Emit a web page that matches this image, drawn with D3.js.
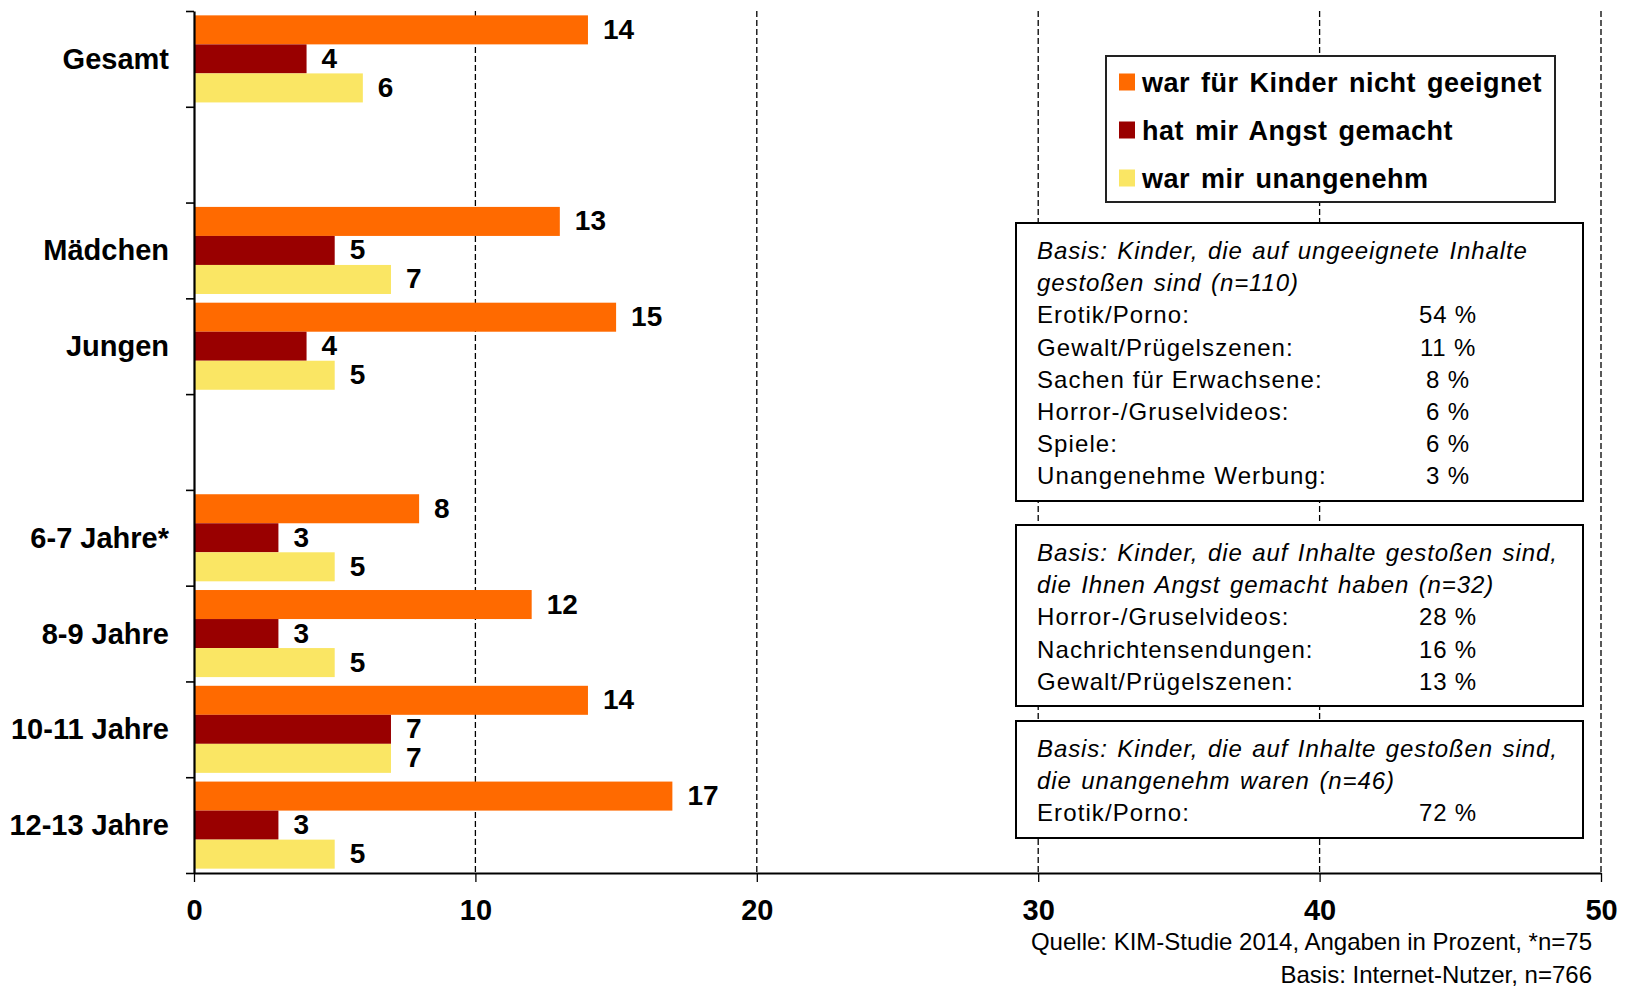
<!DOCTYPE html>
<html>
<head>
<meta charset="utf-8">
<script src="https://cdn.jsdelivr.net/npm/d3@7"></script>
<style>
  body { margin: 0; background: #fff; }
  svg { font-family: 'Liberation Sans', Arial, sans-serif; }
</style>
</head>
<body>
<div id="wrapper"></div>
<script>
// Data
const categories = ['Gesamt', 'gap1', 'Mädchen', 'Jungen', 'gap2', '6-7 Jahre*', '8-9 Jahre', '10-11 Jahre', '12-13 Jahre'];
const categoryLabels = ['Gesamt', '', 'Mädchen', 'Jungen', '', '6-7 Jahre*', '8-9 Jahre', '10-11 Jahre', '12-13 Jahre'];
const seriesNames = ['war für Kinder nicht geeignet', 'hat mir Angst gemacht', 'war mir unangenehm'];
const nichtGeeignet = [14, null, 13, 15, null, 8, 12, 14, 17];
const angst = [4, null, 5, 4, null, 3, 3, 7, 3];
const unangenehm = [6, null, 7, 5, null, 5, 5, 7, 5];
const xTicks = [0, 10, 20, 30, 40, 50];

const box1Header = ['Basis: Kinder, die auf ungeeignete Inhalte', 'gestoßen sind (n=110)'];
const box1Items = ['Erotik/Porno:', 'Gewalt/Prügelszenen:', 'Sachen für Erwachsene:', 'Horror-/Gruselvideos:', 'Spiele:', 'Unangenehme Werbung:'];
const box1Values = ['54 %', '11 %', '8 %', '6 %', '6 %', '3 %'];
const box2Header = ['Basis: Kinder, die auf Inhalte gestoßen sind,', 'die Ihnen Angst gemacht haben (n=32)'];
const box2Items = ['Horror-/Gruselvideos:', 'Nachrichtensendungen:', 'Gewalt/Prügelszenen:'];
const box2Values = ['28 %', '16 %', '13 %'];
const box3Header = ['Basis: Kinder, die auf Inhalte gestoßen sind,', 'die unangenehm waren (n=46)'];
const box3Items = ['Erotik/Porno:'];
const box3Values = ['72 %'];
const footnotes = ['Quelle: KIM-Studie 2014, Angaben in Prozent, *n=75', 'Basis: Internet-Nutzer, n=766'];

const colors = ['#ff6a00', '#990000', '#fae664'];
const seriesValues = [nichtGeeignet, angst, unangenehm];

// Dimensions
const dimensions = {
  width: 1632,
  height: 990,
  margin: { top: 11, right: 31, bottom: 117, left: 194 },
};
dimensions.boundedWidth = dimensions.width - dimensions.margin.left - dimensions.margin.right;
dimensions.boundedHeight = dimensions.height - dimensions.margin.top - dimensions.margin.bottom;

const rows = categories.map((c, i) => ({
  key: c,
  label: categoryLabels[i],
  values: seriesValues.map((s) => s[i]),
}));

// Scales
const xScale = d3.scaleLinear()
  .domain([0, 50])
  .range([0, dimensions.boundedWidth]);

const yScale = d3.scaleBand()
  .domain(categories)
  .range([0, dimensions.boundedHeight]);

const ySub = d3.scaleBand()
  .domain(d3.range(seriesNames.length))
  .range([0, yScale.bandwidth()])
  .paddingOuter(0.15);

// index scale for the band boundary ticks
const yEdge = d3.scaleLinear()
  .domain([0, categories.length])
  .range([0, dimensions.boundedHeight]);

// Canvas
const wrapper = d3.select('#wrapper')
  .append('svg')
  .attr('width', dimensions.width)
  .attr('height', dimensions.height);

const bounds = wrapper.append('g')
  .attr('transform', `translate(${dimensions.margin.left}, ${dimensions.margin.top})`);

// Grid lines
bounds.append('g')
  .selectAll('line')
  .data(xTicks.filter((d) => d > 0))
  .join('line')
  .attr('x1', (d) => xScale(d))
  .attr('x2', (d) => xScale(d))
  .attr('y1', 0)
  .attr('y2', dimensions.boundedHeight)
  .attr('stroke', '#000')
  .attr('stroke-width', 1.3)
  .attr('stroke-dasharray', '6,3');

// Bars
const groups = bounds.selectAll('.group')
  .data(rows.filter((r) => r.label !== ''))
  .join('g')
  .attr('class', 'group')
  .attr('transform', (d) => `translate(0, ${yScale(d.key)})`);

groups.selectAll('rect')
  .data((d) => d.values)
  .join('rect')
  .attr('x', 0)
  .attr('y', (d, i) => ySub(i))
  .attr('width', (d) => xScale(d))
  .attr('height', ySub.bandwidth())
  .attr('fill', (d, i) => colors[i]);

groups.selectAll('.value')
  .data((d) => d.values)
  .join('text')
  .attr('class', 'value')
  .attr('x', (d) => xScale(d) + 15)
  .attr('y', (d, i) => ySub(i) + ySub.bandwidth() / 2 + 9)
  .attr('font-size', 28)
  .attr('font-weight', 'bold')
  .text((d) => d);

// Category labels
bounds.append('g')
  .selectAll('text')
  .data(rows.filter((r) => r.label !== ''))
  .join('text')
  .attr('x', -25)
  .attr('y', (d) => yScale(d.key) + yScale.bandwidth() / 2 + 10)
  .attr('text-anchor', 'end')
  .attr('font-size', 29)
  .attr('font-weight', 'bold')
  .text((d) => d.label);

// Axes
const xAxis = d3.axisBottom(xScale)
  .tickValues(xTicks)
  .tickSize(9)
  .tickSizeOuter(0)
  .tickPadding(17);

const xAxisGroup = bounds.append('g')
  .attr('transform', `translate(0, ${dimensions.boundedHeight})`)
  .call(xAxis);
xAxisGroup.select('.domain').attr('stroke-width', 2.2);
xAxisGroup.selectAll('.tick line').attr('stroke-width', 1.3);
xAxisGroup.selectAll('.tick text')
  .attr('font-size', 29)
  .attr('font-weight', 'bold')
  .attr('font-family', "'Liberation Sans', Arial, sans-serif")
  .attr('fill', '#000');

const yAxis = d3.axisLeft(yEdge)
  .tickValues(d3.range(categories.length + 1))
  .tickFormat('')
  .tickSize(8)
  .tickSizeOuter(0);

const yAxisGroup = bounds.append('g').call(yAxis);
yAxisGroup.select('.domain').attr('stroke-width', 2.2);
yAxisGroup.selectAll('.tick line').attr('stroke-width', 1.6);

// Legend
const legend = wrapper.append('g');
legend.append('rect')
  .attr('x', 1106)
  .attr('y', 56)
  .attr('width', 449)
  .attr('height', 146)
  .attr('fill', '#fff')
  .attr('stroke', '#222')
  .attr('stroke-width', 2);

const legendItems = legend.selectAll('.item')
  .data(seriesNames)
  .join('g')
  .attr('class', 'item')
  .attr('transform', (d, i) => `translate(1119, ${82 + i * 48})`);

legendItems.append('rect')
  .attr('y', -8.5)
  .attr('width', 16)
  .attr('height', 17)
  .attr('fill', (d, i) => colors[i]);

legendItems.append('text')
  .attr('x', 23)
  .attr('y', 10)
  .attr('font-size', 27)
  .attr('font-weight', 'bold')
  .attr('letter-spacing', 0.5)
  .attr('word-spacing', 3)
  .text((d) => d);

// Info boxes
function infoBox(top, height, header, items, values) {
  const g = wrapper.append('g');
  g.append('rect')
    .attr('x', 1016)
    .attr('y', top)
    .attr('width', 567)
    .attr('height', height)
    .attr('fill', '#fff')
    .attr('stroke', '#000')
    .attr('stroke-width', 2);

  const lineHeight = 32.2;
  g.selectAll('.head')
    .data(header)
    .join('text')
    .attr('class', 'head')
    .attr('x', 1037)
    .attr('y', (d, i) => top + 36 + i * lineHeight)
    .attr('font-size', 24)
    .attr('font-style', 'italic')
    .attr('letter-spacing', 0.9)
    .attr('word-spacing', 2)
    .text((d) => d);

  g.selectAll('.item')
    .data(items)
    .join('text')
    .attr('class', 'item')
    .attr('x', 1037)
    .attr('y', (d, i) => top + 36 + (i + header.length) * lineHeight)
    .attr('font-size', 24)
    .attr('letter-spacing', 1.1)
    .text((d) => d);

  g.selectAll('.val')
    .data(values)
    .join('text')
    .attr('class', 'val')
    .attr('x', 1448)
    .attr('y', (d, i) => top + 36 + (i + header.length) * lineHeight)
    .attr('text-anchor', 'middle')
    .attr('font-size', 24)
    .attr('letter-spacing', 0.8)
    .text((d) => d);
}

infoBox(223, 278, box1Header, box1Items, box1Values);
infoBox(525, 181, box2Header, box2Items, box2Values);
infoBox(721, 117, box3Header, box3Items, box3Values);

// Footnotes
wrapper.append('g')
  .selectAll('text')
  .data(footnotes)
  .join('text')
  .attr('x', 1592)
  .attr('y', (d, i) => 950 + i * 33)
  .attr('text-anchor', 'end')
  .attr('font-size', 24)
  .text((d) => d);
</script>
</body>
</html>
